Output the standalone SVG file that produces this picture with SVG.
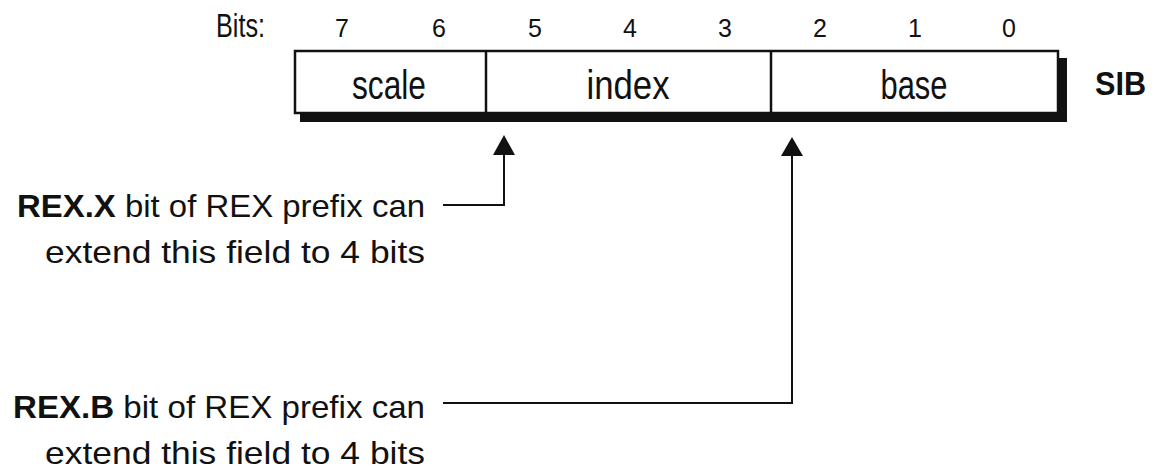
<svg xmlns="http://www.w3.org/2000/svg" width="1155" height="475" viewBox="0 0 1155 475">
  <style>
    text { font-family: "Liberation Sans", "DejaVu Sans", sans-serif; fill: #111; }
    .bitno { font-size: 25px; text-anchor: middle; }
    .field { font-size: 40px; text-anchor: middle; }
    .note { font-size: 32px; text-anchor: end; }
    .b { font-weight: bold; }
    .frame { fill: #fff; stroke: #111; stroke-width: 2.5; }
    .div { stroke: #111; stroke-width: 2.5; }
    .wire { fill: none; stroke: #111; stroke-width: 2; }
  </style>

  <!-- bit numbering -->
  <g id="bit-numbers">
    <text x="216" y="37" font-size="33" textLength="49" lengthAdjust="spacingAndGlyphs">Bits:</text>
    <text class="bitno" x="342" y="37">7</text>
    <text class="bitno" x="439" y="37">6</text>
    <text class="bitno" x="535" y="37">5</text>
    <text class="bitno" x="630" y="37">4</text>
    <text class="bitno" x="725" y="37">3</text>
    <text class="bitno" x="820" y="37">2</text>
    <text class="bitno" x="915" y="37">1</text>
    <text class="bitno" x="1009" y="37">0</text>
  </g>

  <!-- SIB byte with drop shadow -->
  <g id="sib-byte">
    <rect x="300" y="58" width="767" height="64" fill="#111"/>
    <rect class="frame" x="295" y="51" width="763" height="62"/>
    <line class="div" x1="486" y1="51" x2="486" y2="113"/>
    <line class="div" x1="771" y1="51" x2="771" y2="113"/>
  </g>
  <g id="field-scale">
    <text class="field" x="389" y="99" textLength="74" lengthAdjust="spacingAndGlyphs">scale</text>
  </g>
  <g id="field-index">
    <text class="field" x="628" y="99" textLength="83" lengthAdjust="spacingAndGlyphs">index</text>
  </g>
  <g id="field-base">
    <text class="field" x="914" y="99" textLength="67" lengthAdjust="spacingAndGlyphs">base</text>
  </g>
  <g id="sib-label">
    <text class="b" x="1095" y="95" font-size="33" textLength="51" lengthAdjust="spacingAndGlyphs">SIB</text>
  </g>

  <!-- annotations -->
  <g id="note-rex-x">
    <text class="note" x="425" y="217" textLength="408" lengthAdjust="spacingAndGlyphs"><tspan class="b">REX.X</tspan> bit of REX prefix can</text>
    <text class="note" x="425" y="263" textLength="380" lengthAdjust="spacingAndGlyphs">extend this field to 4 bits</text>
  </g>
  <g id="note-rex-b">
    <text class="note" x="425" y="418" textLength="412" lengthAdjust="spacingAndGlyphs"><tspan class="b">REX.B</tspan> bit of REX prefix can</text>
    <text class="note" x="425" y="464" textLength="380" lengthAdjust="spacingAndGlyphs">extend this field to 4 bits</text>
  </g>

  <!-- connectors -->
  <g id="connectors">
    <path class="wire" d="M443,205 H504 V152"/>
    <polygon points="504,135 493,155 515,155" fill="#111"/>
    <path class="wire" d="M443,403 H792 V152"/>
    <polygon points="792,137 781,156 803,156" fill="#111"/>
  </g>
</svg>
